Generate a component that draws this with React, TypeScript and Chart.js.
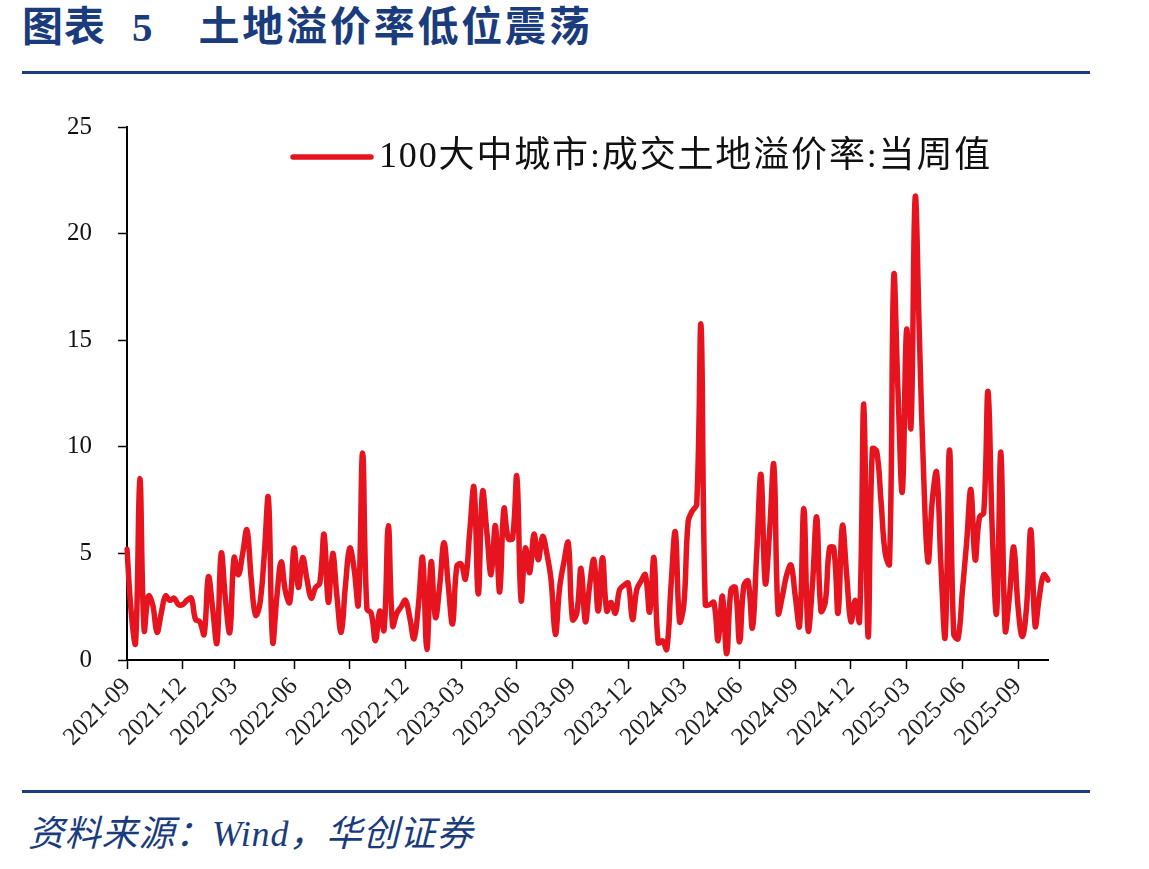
import React, { useEffect, useRef } from "react";
import { Chart, registerables } from "chart.js";

Chart.register(...registerables);

// ---------- data ----------
const START_WEEK = "2021-09-07";
const seriesName = "100大中城市:成交土地溢价率:当周值";

const premiumRate: number[] = [
  5.2, 2.2, 0.8, 8.5, 1.4, 3.0, 2.6, 1.3, 2.2, 3.0,
  2.8, 2.9, 2.6, 2.6, 2.8, 2.9, 1.9, 1.8, 1.2, 3.9,
  2.4, 0.8, 5.0, 2.8, 1.3, 4.8, 4.0, 5.0, 6.1, 3.8,
  2.1, 2.6, 4.8, 7.6, 0.85, 3.0, 4.6, 3.2, 2.7, 5.25,
  3.4, 4.8, 3.8, 2.9, 3.4, 3.6, 5.9, 2.7, 5.0, 3.0,
  1.3, 3.5, 5.25, 4.3, 2.6, 9.7, 2.4, 2.2, 0.9, 2.3,
  1.4, 6.3, 1.6, 2.2, 2.5, 2.8, 2.0, 1.0, 2.5, 4.8,
  0.5, 4.6, 2.0, 3.5, 5.5, 3.5, 1.7, 4.4, 4.5, 3.8,
  6.0, 8.1, 3.1, 7.9, 6.0, 4.0, 6.3, 3.2, 7.1, 5.7,
  5.7, 8.6, 2.8, 5.25, 4.1, 5.9, 4.7, 5.8, 5.0, 3.75,
  1.2, 3.4, 4.6, 5.5, 1.9, 2.2, 4.3, 1.8, 3.5, 4.7,
  2.3, 4.8, 2.3, 2.7, 2.2, 3.3, 3.5, 3.6, 1.9, 3.3,
  3.7, 4.0, 2.25, 4.8, 0.8, 0.9, 0.5, 3.5, 6.0, 1.8,
  2.6, 6.5, 7.0, 7.3, 15.7, 2.6, 2.6, 2.7, 0.9, 3.0,
  0.3, 3.3, 3.4, 0.85, 3.5, 3.7, 1.5, 5.0, 8.7, 3.6,
  6.0, 9.15, 2.2, 3.0, 4.0, 4.45, 3.0, 1.6, 7.1, 1.4,
  3.5, 6.7, 2.3, 2.7, 5.25, 5.25, 2.2, 6.3, 4.0, 1.8,
  2.8, 1.8, 12.0, 1.1, 9.9, 9.8, 7.5, 5.0, 4.5, 18.0,
  12.5, 7.9, 15.5, 10.9, 21.7, 15.0, 8.5, 4.6, 7.5, 8.8,
  4.5, 1.1, 9.85, 1.2, 1.0, 3.2, 5.5, 8.0, 4.7, 6.7,
  6.9, 12.6, 6.0, 2.2, 9.75, 1.4, 3.0, 5.3, 2.5, 1.1,
  2.5, 6.1, 1.6, 3.0, 4.0, 3.75,
];

const tickLabels = [
  "2021-09", "2021-12", "2022-03", "2022-06", "2022-09", "2022-12",
  "2023-03", "2023-06", "2023-09", "2023-12", "2024-03", "2024-06",
  "2024-09", "2024-12", "2025-03", "2025-06", "2025-09",
];

const yTicks = [0, 5, 10, 15, 20, 25];

function buildWeekDates(start: string, count: number): string[] {
  const t0 = Date.parse(start + "T00:00:00Z");
  const out: string[] = [];
  for (let i = 0; i < count; i++) {
    out.push(new Date(t0 + i * 7 * 86400000).toISOString().slice(0, 10));
  }
  return out;
}

const weekDates = buildWeekDates(START_WEEK, premiumRate.length);

// ---------- style ----------
const BLUE = "#1b3c7c";
const RED = "#e5141f";
const SERIF = '"Liberation Serif", "Times New Roman", "Noto Sans CJK SC", serif';

const insideLegend = {
  id: "insideLegend",
  afterDatasetsDraw(chart: any) {
    const { ctx, chartArea } = chart;
    const ds = chart.data.datasets[0];
    const y = chartArea.top + 30;
    const x0 = chartArea.left + 166;
    ctx.save();
    ctx.strokeStyle = ds.borderColor;
    ctx.lineWidth = 5.5;
    ctx.lineCap = "round";
    ctx.beginPath();
    ctx.moveTo(x0, y);
    ctx.lineTo(x0 + 78, y);
    ctx.stroke();
    ctx.font = `36px ${SERIF}`;
    (ctx as any).letterSpacing = "1.85px";
    ctx.fillStyle = "#111";
    ctx.textBaseline = "middle";
    ctx.textAlign = "left";
    ctx.fillText(ds.label, x0 + 86, y + 1);
    ctx.restore();
  },
};

function LandChart() {
  const ref = useRef<HTMLCanvasElement | null>(null);
  useEffect(() => {
    if (!ref.current) return;
    const chart = new Chart(ref.current, {
      type: "line",
      data: {
        labels: weekDates,
        datasets: [
          {
            label: seriesName,
            data: premiumRate,
            borderColor: RED,
            backgroundColor: RED,
            borderWidth: 5.5,
            tension: 0.4,
            pointRadius: 0,
            borderCapStyle: "round",
            borderJoinStyle: "round",
            fill: false,
          },
        ],
      },
      options: {
        animation: false,
        responsive: false,
        layout: { padding: { left: 27, right: 101, top: 27, bottom: 40 } },
        plugins: { legend: { display: false }, tooltip: { enabled: false } },
        scales: {
          x: {
            type: "category",
            offset: false,
            afterBuildTicks: (axis: any) => {
              axis.ticks = axis.ticks.filter((t: any) => {
                const ym = weekDates[t.value].slice(0, 7);
                const prev = t.value > 0 ? weekDates[t.value - 1].slice(0, 7) : "";
                return tickLabels.includes(ym) && prev !== ym;
              });
            },
            afterFit: (axis: any) => {
              axis.height = 100;
            },
            grid: {
              display: true,
              drawOnChartArea: false,
              drawTicks: true,
              tickLength: 9,
              tickColor: "#000",
              tickWidth: 1.5,
            },
            border: { display: true, color: "#000", width: 2 },
            ticks: {
              autoSkip: false,
              minRotation: 45,
              maxRotation: 45,
              padding: 3,
              color: "#222",
              font: { family: SERIF, size: 25 },
              callback: (value: any) => weekDates[Number(value)].slice(0, 7),
            },
          },
          y: {
            min: yTicks[0],
            max: yTicks[yTicks.length - 1],
            afterFit: (axis: any) => {
              axis.width = 100;
              axis.paddingTop = 0;
              axis.paddingBottom = 0;
            },
            afterBuildTicks: (axis: any) => {
              axis.ticks = yTicks.map((v) => ({ value: v }));
            },
            grid: {
              display: true,
              drawOnChartArea: false,
              drawTicks: true,
              tickLength: 9,
              tickColor: "#000",
              tickWidth: 1.5,
            },
            border: { display: true, color: "#000", width: 2 },
            ticks: {
              stepSize: 5,
              padding: 26,
              color: "#111",
              font: { family: SERIF, size: 25 },
            },
          },
        },
      },
      plugins: [insideLegend],
    } as any);
    return () => chart.destroy();
  }, []);
  return <canvas ref={ref} width={1149} height={700} style={{ width: 1149, height: 700, display: "block" }} />;
}

export default function App() {
  return (
    <div
      style={{
        position: "absolute",
        left: 0,
        top: 0,
        width: 1149,
        height: 869,
        background: "#fff",
        fontFamily: SERIF,
        overflow: "hidden",
      }}
    >
      <div
        style={{
          position: "absolute",
          left: 22,
          top: 3,
          fontSize: 41,
          lineHeight: "48px",
          fontWeight: 700,
          color: BLUE,
          whiteSpace: "nowrap",
        }}
      >
        <span style={{ letterSpacing: 1 }}>图表</span>
        <span style={{ marginLeft: 26 }}>5</span>
        <span style={{ marginLeft: 46, letterSpacing: 2.8 }}>土地溢价率低位震荡</span>
      </div>
      <div style={{ position: "absolute", left: 22, top: 71, width: 1068, height: 3, background: BLUE }} />
      <div style={{ position: "absolute", left: 0, top: 100, width: 1149, height: 700 }}>
        <LandChart />
      </div>
      <div style={{ position: "absolute", left: 22, top: 790, width: 1068, height: 3, background: BLUE }} />
      <div
        style={{
          position: "absolute",
          left: 28,
          top: 812,
          fontSize: 36,
          lineHeight: "44px",
          letterSpacing: 0.8,
          fontStyle: "italic",
          color: BLUE,
          whiteSpace: "nowrap",
        }}
      >
        资料来源：Wind，华创证券
      </div>
    </div>
  );
}
